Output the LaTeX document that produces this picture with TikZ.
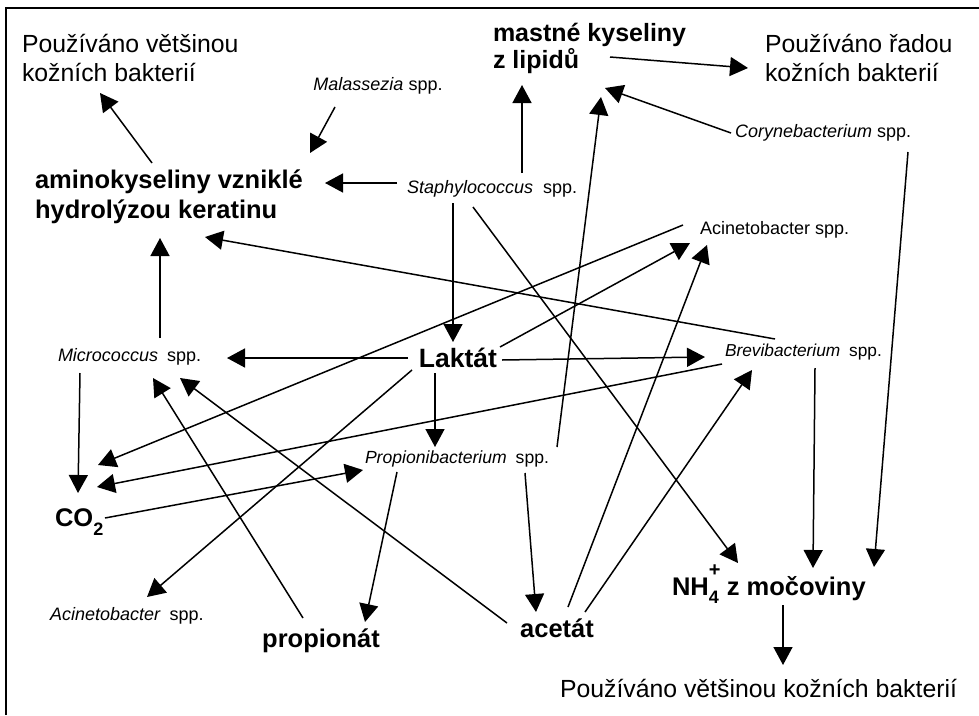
\documentclass[tikz,border=0pt]{standalone}
\usepackage{fontspec}
\setmainfont{Liberation Sans}
\usetikzlibrary{arrows.meta,calc}
\newcommand\fReg{\fontsize{24.8}{29}\selectfont}
\newcommand\fBld{\fontsize{25.5}{30}\selectfont\bfseries}
\newcommand\fBldm{\fontsize{25}{27}\selectfont\bfseries}
\newcommand\fSpc{\fontsize{18}{20}\selectfont}
\begin{document}
\begin{tikzpicture}[x=1pt,y=-1pt,
  lbl/.style={inner sep=0pt,outer sep=0pt},
  arr/.style={line width=1.5pt,-{Triangle[length=18pt,width=19pt]}},
  frame/.style={line width=2pt}]
\useasboundingbox (0,0) rectangle (979,715);
\fill[white] (0,0) rectangle (979,715);
\draw[frame] (6,715) -- (6,8) -- (979,8);

% nodes
\node[lbl,anchor=west,align=left,font=\fReg] (use1) at (22,57.5) {Používáno většinou\\kožních bakterií};
\node[lbl,anchor=west,align=left,font=\fBldm] (mastne) at (493,48.5) {mastné kyseliny\\z lipidů};
\node[lbl,anchor=west,align=left,font=\fReg] (use2) at (765,57.5) {Používáno řadou\\kožních bakterií};
\node[lbl,font=\fSpc] (malass) at (378,86) {\textit{Malassezia} spp.};
\node[lbl,anchor=west,align=left,font=\fBld] (amino) at (35,197) {aminokyseliny vzniklé\\hydrolýzou keratinu};
\node[lbl,anchor=west,font=\fSpc] (staph) at (407,189) {\textit{Staphylococcus}\hspace{5pt} spp.};
\node[lbl,anchor=west,font=\fSpc] (coryne) at (735,133) {\textit{Corynebacterium} spp.};
\node[lbl,anchor=west,font=\fSpc] (acin1) at (700,230) {Acinetobacter spp.};
\node[lbl,anchor=west,font=\fSpc] (micro) at (58,357) {\textit{Micrococcus}\hspace{4pt} spp.};
\node[lbl,font=\fontsize{26.5}{30}\selectfont\bfseries] (laktat) at (458,358) {Laktát};
\node[lbl,anchor=west,font=\fontsize{17.3}{20}\selectfont] (brevi) at (725,352) {\textit{Brevibacterium}\hspace{4pt} spp.};
\node[lbl,anchor=west,font=\fontsize{17.6}{20}\selectfont] (propb) at (365,459) {\textit{Propionibacterium}\hspace{4pt} spp.};
\node[lbl,anchor=base west,font=\fBld] (co2) at (55,526) {CO\raisebox{-9pt}{\fontsize{18}{18}\selectfont 2}};
\node[lbl,anchor=west,font=\fSpc] (acin2) at (50,616) {\textit{Acinetobacter}\hspace{4pt} spp.};
\node[lbl,font=\fBld] (propionat) at (321,641) {propionát};
\node[lbl,font=\fBld] (acetat) at (557,628) {acetát};
\node[lbl,anchor=base west,font=\fBld] (nh4) at (672,595) {NH\rlap{\raisebox{19pt}{\fontsize{20}{20}\selectfont +}}\raisebox{-8pt}{\fontsize{18}{18}\selectfont 4}\hspace{8pt}z močoviny};
\node[lbl,anchor=west,font=\fReg] (bottom) at (560,688) {Používáno většinou kožních bakterií};

% connectors
\draw[arr] ($(amino.west)+(117,-34)$) -- ($(use1.west)+(78,35.5)$);
\draw[arr] ($(malass.center)+(-43,21)$) -- ($(amino.west)+(275,-44)$);
\draw[arr] ($(staph.west)+(-10,-6)$) -- ($(amino.west)+(290,-14)$);
\draw[arr] ($(staph.west)+(115,-16)$) -- ($(mastne.west)+(29,36.5)$);
\draw[arr] ($(mastne.west)+(117,8.5)$) -- ($(use2.west)+(-17,10.5)$);
\draw[arr] ($(coryne.west)+(-4,0)$) -- ($(mastne.west)+(112,39.5)$);
\draw[arr] ($(propb.west)+(192,-12)$) -- ($(mastne.west)+(108,48.5)$);
\draw[arr] ($(coryne.west)+(173,19)$) -- ($(nh4.base west)+(202,-28)$);
\draw[arr] ($(acin1.west)+(-17,-5)$) -- ($(co2.base west)+(43,-61)$);
\draw[arr] ($(micro.west)+(102,-19)$) -- ($(amino.west)+(125,41)$);
\draw[arr] ($(brevi.west)+(50,-13)$) -- ($(amino.west)+(170,40)$);
\draw[arr] ($(staph.west)+(46,14)$) -- ($(laktat.center)+(-5,-16)$);
\draw[arr] ($(laktat.center)+(-50,0)$) -- ($(micro.west)+(169,1)$);
\draw[arr] ($(micro.west)+(22,16)$) -- ($(co2.base west)+(23,-33)$);
\draw[arr] ($(propionat.center)+(-18,-23)$) -- ($(micro.west)+(95,21)$);
\draw[arr] ($(acetat.center)+(-50,-5)$) -- ($(micro.west)+(122,21)$);
\draw[arr] ($(laktat.center)+(-23,15)$) -- ($(propb.west)+(70,-12)$);
\draw[arr] ($(laktat.center)+(-46,12)$) -- ($(acin2.west)+(97,-19)$);
\draw[arr] ($(brevi.west)+(-3,12)$) -- ($(co2.base west)+(42,-39)$);
\draw[arr] ($(co2.base west)+(50,-8)$) -- ($(propb.west)+(-2,11)$);
\draw[arr] ($(laktat.center)+(44,2)$) -- ($(brevi.west)+(-20,5)$);
\draw[arr] ($(acetat.center)+(28,-16)$) -- ($(brevi.west)+(27,18)$);
\draw[arr] ($(acetat.center)+(11,-21)$) -- ($(acin1.west)+(7,15)$);
\draw[arr] ($(laktat.center)+(42,-11)$) -- ($(acin1.west)+(-10,13)$);
\draw[arr] ($(staph.west)+(66,18)$) -- ($(nh4.base west)+(66,-32)$);
\draw[arr] ($(brevi.west)+(90,16)$) -- ($(nh4.base west)+(141,-27)$);
\draw[arr] ($(propb.west)+(32,13)$) -- ($(propionat.center)+(44,-19)$);
\draw[arr] ($(propb.west)+(160,14)$) -- ($(acetat.center)+(-21,-16)$);
\draw[arr] ($(nh4.base west)+(111,10)$) -- ($(bottom.west)+(223,-23)$);
\end{tikzpicture}
\end{document}
